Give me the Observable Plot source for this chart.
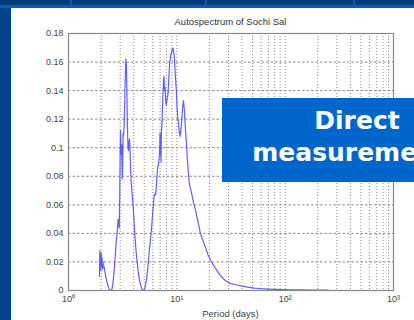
<!DOCTYPE html>
<html>
<head>
<meta charset="utf-8">
<script src="https://cdn.jsdelivr.net/npm/d3@7"></script>
<script src="https://cdn.jsdelivr.net/npm/@observablehq/plot@0.6"></script>
<style>
  html, body { margin: 0; padding: 0; }
  body { width: 414px; height: 320px; position: relative; overflow: hidden; background: #044388; font-family: "Liberation Sans", Arial, sans-serif; }
  #topbar { position: absolute; left: 0; top: 0; width: 414px; height: 6px; background: #003b78; }
  #topline { position: absolute; left: 0; top: 5px; width: 414px; height: 3px; background: #0a5cb2; }
  .seg { position: absolute; top: 0; width: 2px; height: 6px; background: #0a5cb2; }
  #paper { position: absolute; left: 11px; top: 8px; width: 403px; height: 312px; background: #ffffff; }
  #chart { position: absolute; left: 0; top: 0; }
  #title { position: absolute; left: 68px; width: 325px; top: 16px; text-align: center; font-size: 9.5px; color: #333; }
  #xlabel { position: absolute; left: 68px; width: 325px; top: 308px; text-align: center; font-size: 9.5px; color: #444; }
  #box { position: absolute; left: 222px; top: 98px; width: 192px; height: 84px; background: #0066cc; overflow: hidden; }
  #boxtext { position: absolute; left: -5px; width: 280px; top: 7px; text-align: center; color: #fff; font-family: "DejaVu Sans", Verdana, sans-serif; font-weight: bold; font-size: 25px; line-height: 32px; white-space: nowrap; }
</style>
</head>
<body>
<div id="topbar"></div>
<div id="topline"></div>
<div class="seg" style="left:70px"></div>
<div class="seg" style="left:205px"></div>
<div class="seg" style="left:353px"></div>
<div id="paper"></div>
<div id="chart"></div>
<div id="title">Autospectrum of Sochi Sal</div>
<div id="xlabel">Period (days)</div>
<div id="box"><div id="boxtext">Direct<br>measurements</div></div>
<script>
const period = [1.93,1.94,1.95,1.96,1.97,1.98,1.99,2.00,2.01,2.02,2.04,2.06,2.08,2.10,2.13,2.17,2.22,2.28,2.34,2.40,2.46,2.52,2.58,2.64,2.70,2.77,2.83,2.87,2.90,2.94,2.97,3.00,3.02,3.05,3.08,3.10,3.13,3.16,3.19,3.22,3.26,3.30,3.34,3.38,3.42,3.46,3.50,3.54,3.58,3.62,3.66,3.70,3.74,3.80,3.86,3.92,3.98,4.05,4.12,4.20,4.30,4.40,4.50,4.62,4.75,4.88,5.00,5.12,5.25,5.38,5.50,5.62,5.75,5.86,5.97,6.08,6.18,6.28,6.38,6.45,6.55,6.65,6.75,6.85,6.95,7.00,7.05,7.10,7.15,7.20,7.28,7.35,7.45,7.55,7.62,7.70,7.80,7.90,8.00,8.15,8.30,8.45,8.60,8.80,9.00,9.20,9.35,9.50,9.70,9.90,10.1,10.4,10.7,10.9,11.1,11.3,11.5,11.7,11.9,12.2,12.5,12.8,13.1,13.4,13.7,14.2,14.9,15.7,16.5,17.4,18.4,19.4,20.5,22.5,25,28,31,35,39,45,52,60,70,80,95,110,140,180,220,250];
const power = [0.010,0.022,0.028,0.018,0.025,0.014,0.022,0.019,0.026,0.017,0.023,0.015,0.020,0.016,0.017,0.013,0.009,0.005,0.002,0.0003,0.0,0.001,0.006,0.014,0.024,0.036,0.043,0.050,0.047,0.044,0.065,0.098,0.112,0.100,0.095,0.102,0.078,0.085,0.110,0.108,0.115,0.130,0.150,0.162,0.158,0.140,0.115,0.100,0.098,0.104,0.106,0.098,0.086,0.075,0.068,0.062,0.055,0.045,0.036,0.028,0.020,0.013,0.008,0.004,0.001,0.0,0.0005,0.003,0.008,0.015,0.023,0.031,0.038,0.045,0.053,0.061,0.066,0.068,0.067,0.072,0.080,0.086,0.088,0.092,0.100,0.110,0.095,0.105,0.090,0.112,0.115,0.125,0.138,0.148,0.150,0.140,0.142,0.132,0.130,0.134,0.138,0.150,0.160,0.165,0.168,0.170,0.167,0.163,0.150,0.140,0.125,0.115,0.108,0.112,0.120,0.128,0.133,0.128,0.118,0.105,0.092,0.082,0.074,0.071,0.068,0.062,0.056,0.048,0.040,0.035,0.030,0.025,0.021,0.016,0.011,0.007,0.005,0.004,0.0032,0.0024,0.0017,0.0013,0.0010,0.0008,0.0006,0.0005,0.0004,0.0003,0.0003,0.0003];

const xMajorTicks = [1, 10, 100, 1000];
const xTickLabels = ["10\u2070", "10\u00b9", "10\u00b2", "10\u00b3"];
const yTicks = [0, 0.02, 0.04, 0.06, 0.08, 0.1, 0.12, 0.14, 0.16, 0.18];
const yTickLabels = ["0", "0.02", "0.04", "0.06", "0.08", "0.1", "0.12", "0.14", "0.16", "0.18"];

const xGrid = [];
for (const d of [1, 10, 100]) for (let k = 2; k <= 9; k++) xGrid.push(d * k);
xGrid.push(10, 100);
const yGrid = yTicks.slice(1, -1);

const data = period.map((p, i) => ({p, v: power[i]}));

const chart = Plot.plot({
  width: 414,
  height: 320,
  marginLeft: 68,
  marginRight: 21,
  marginTop: 33,
  marginBottom: 30,
  style: {background: "transparent", fontFamily: "Liberation Sans, Arial, sans-serif", fontSize: "9px", color: "#444"},
  x: {type: "log", domain: [1, 1000], ticks: xMajorTicks, tickFormat: d => xTickLabels[xMajorTicks.indexOf(d)], tickSize: 0, tickPadding: 5, label: null},
  y: {domain: [0, 0.18], ticks: yTicks, tickFormat: d => yTickLabels[yTicks.findIndex(t => Math.abs(t - d) < 1e-9)], tickSize: 0, tickPadding: 5, label: null},
  marks: [
    Plot.ruleX(xGrid, {stroke: "#888", strokeWidth: 1, strokeDasharray: "1,2"}),
    Plot.ruleY(yGrid, {stroke: "#888", strokeWidth: 1, strokeDasharray: "2.5,2"}),
    Plot.line(data, {x: "p", y: "v", stroke: "#4f4fff", strokeWidth: 1.2, strokeOpacity: 0.9, curve: "linear"}),
    Plot.frame({stroke: "#888", strokeWidth: 1.2})
  ]
});
document.getElementById("chart").appendChild(chart);
</script>
</body>
</html>
